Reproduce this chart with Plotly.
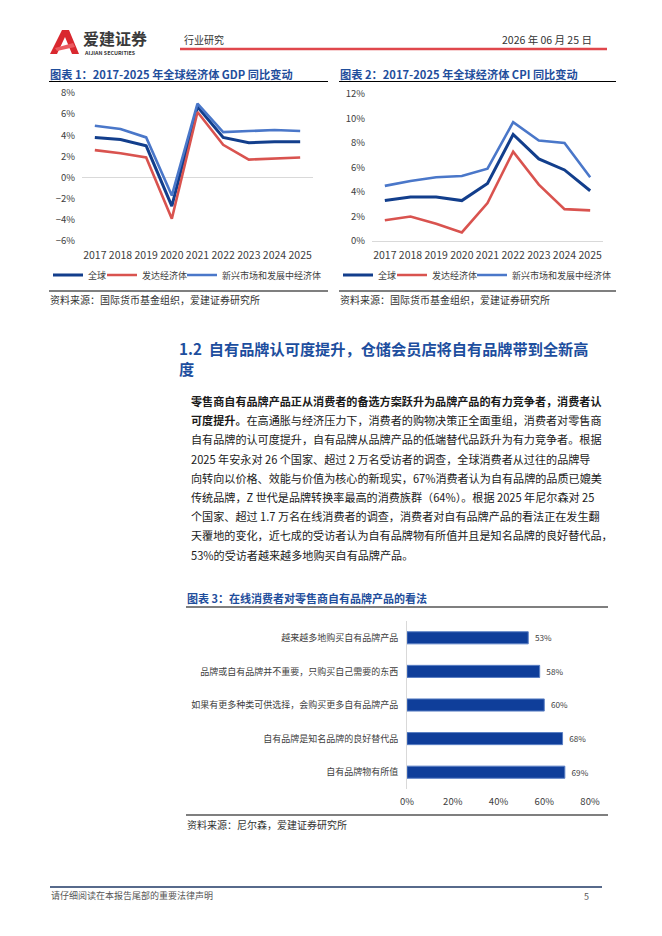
import plotly.graph_objects as go

# page is 662x936; the browser's body margin adds 8px, so the figure itself is smaller
W, H = 662, 936
OFF = 8
FW, FH = W - OFF, H - OFF
FONT = "Noto Sans CJK SC, Noto Sans, DejaVu Sans, sans-serif"

# ---- data ----
years = ["2017", "2018", "2019", "2020", "2021", "2022", "2023", "2024", "2025"]
series_names = ["全球", "发达经济体", "新兴市场和发展中经济体"]

gdp_world = [3.8, 3.6, 3.0, -2.7, 6.7, 3.8, 3.3, 3.4, 3.4]
gdp_adv = [2.6, 2.3, 1.9, -3.9, 6.2, 3.1, 1.7, 1.8, 1.9]
gdp_emg = [4.9, 4.6, 3.8, -1.7, 7.0, 4.3, 4.4, 4.5, 4.4]

cpi_world = [3.3, 3.6, 3.6, 3.3, 4.7, 8.7, 6.7, 5.8, 4.1]
cpi_adv = [1.7, 2.0, 1.4, 0.7, 3.1, 7.3, 4.6, 2.6, 2.5]
cpi_emg = [4.5, 4.9, 5.2, 5.3, 5.9, 9.7, 8.2, 8.0, 5.2]

views = ["越来越多地购买自有品牌产品",
         "品牌或自有品牌并不重要，只购买自己需要的东西",
         "如果有更多种类可供选择，会购买更多自有品牌产品",
         "自有品牌是知名品牌的良好替代品",
         "自有品牌物有所值"]
view_share = [53, 58, 60, 68, 69]

heading = ["1.2\u00a0\u00a0自有品牌认可度提升，仓储会员店将自有品牌带到全新高", "度"]
paragraph = [
    "<b>零售商自有品牌产品正从消费者的备选方案跃升为品牌产品的有力竞争者，消费者认</b>",
    "<b>可度提升。</b>在高通胀与经济压力下，消费者的购物决策正全面重组，消费者对零售商",
    "自有品牌的认可度提升，自有品牌从品牌产品的低端替代品跃升为有力竞争者。根据",
    "2025 年安永对 26 个国家、超过 2 万名受访者的调查，全球消费者从过往的品牌导",
    "向转向以价格、效能与价值为核心的新现实，67%消费者认为自有品牌的品质已媲美",
    "传统品牌，Z 世代是品牌转换率最高的消费族群（64%）。根据 2025 年尼尔森对 25",
    "个国家、超过 1.7 万名在线消费者的调查，消费者对自有品牌产品的看法正在发生翻",
    "天覆地的变化，近七成的受访者认为自有品牌物有所值并且是知名品牌的良好替代品，",
    "53%的受访者越来越多地购买自有品牌产品。",
]

colors = ["#123E8C", "#D9534F", "#4A77C9"]
widths = [3, 2.6, 2.6]
BLUE_T = "#1F4E9C"
GREY = "#404040"

# where each legend entry's sample line ends (page px), per chart
legend_ends_1 = [83, 137, 217]
legend_ends_2 = [373, 427, 507]


def px(x):
    return (x - OFF) / FW


def py(y):
    return 1 - (y - OFF) / FH


fig = go.Figure()

for i, (name, vals) in enumerate(zip(series_names, [gdp_world, gdp_adv, gdp_emg])):
    fig.add_trace(go.Scatter(x=years, y=vals, name=name, mode="lines",
                             line=dict(color=colors[i], width=widths[i]),
                             xaxis="x", yaxis="y",
                             legend="legend" if i == 0 else f"legend{i + 1}"))
for i, (name, vals) in enumerate(zip(series_names, [cpi_world, cpi_adv, cpi_emg])):
    fig.add_trace(go.Scatter(x=years, y=vals, name=name, mode="lines",
                             line=dict(color=colors[i], width=widths[i]),
                             xaxis="x2", yaxis="y2", legend=f"legend{i + 4}"))

fig.add_trace(go.Bar(x=view_share, y=views, orientation="h",
                     marker=dict(color="#0F3E9A", line=dict(color="#5A7FC4", width=1)),
                     texttemplate="\u00a0\u00a0%{x}", textposition="outside",
                     textfont=dict(family=FONT, size=9.5, color=GREY), cliponaxis=False,
                     xaxis="x3", yaxis="y3", showlegend=False))

tickfont = dict(family=FONT, size=9.5, color=GREY)
yearfont = dict(family=FONT, size=10.5, color=GREY)
hidden_tick = dict(ticks="outside", ticklen=4, tickcolor="rgba(0,0,0,0)", automargin=False)

legend_common = dict(orientation="h", font=dict(family=FONT, size=9, color=GREY),
                     bgcolor="rgba(0,0,0,0)", yanchor="middle", xanchor="left",
                     itemwidth=30, borderwidth=0)

legends = {}
for i, end in enumerate(legend_ends_1 + legend_ends_2):
    key = "legend" if i == 0 else f"legend{i + 1}"
    legends[key] = dict(x=px(end - 35), y=py(275), **legend_common)

fig.update_layout(
    template="none",
    width=FW, height=FH, margin=dict(l=0, r=0, t=0, b=0, pad=0), autosize=False,
    paper_bgcolor="white", plot_bgcolor="white",
    font=dict(family=FONT, color=GREY),
    bargap=0.64,
    xaxis=dict(domain=[px(82), px(313)], anchor="y", range=[-0.5, 8.5], type="category",
               showgrid=False, zeroline=False, showline=False,
               tickfont=yearfont, **hidden_tick),
    yaxis=dict(domain=[py(241), py(93)], anchor="x", range=[-6, 8], dtick=2, ticksuffix="%",
               showgrid=False, zeroline=True, zerolinecolor="#D9D9D9", zerolinewidth=1,
               tickfont=tickfont, **hidden_tick),
    xaxis2=dict(domain=[px(372), px(603)], anchor="y2", range=[-0.5, 8.5], type="category",
                showgrid=False, zeroline=False, showline=True, linecolor="#D9D9D9",
                linewidth=1, tickfont=yearfont, **hidden_tick),
    yaxis2=dict(domain=[py(241), py(94)], anchor="x2", range=[0, 12], dtick=2, ticksuffix="%",
                showgrid=False, zeroline=False, tickfont=tickfont, **hidden_tick),
    xaxis3=dict(domain=[px(407), px(590)], anchor="y3", range=[0, 80], dtick=20, ticksuffix="%",
                showgrid=False, zeroline=False, showline=False,
                tickfont=tickfont, **hidden_tick),
    yaxis3=dict(domain=[py(789), py(621)], anchor="x3", autorange="reversed", type="category",
                showgrid=False, zeroline=False, showline=True, linecolor="#D9D9D9",
                linewidth=1, tickfont=dict(family=FONT, size=9, color=GREY),
                ticks="outside", ticklen=6, tickcolor="rgba(0,0,0,0)", automargin=False),
    **legends,
)

shapes = []


def hline(x0, x1, y, color="black", w=1.2):
    shapes.append(dict(type="line", xref="paper", yref="paper",
                       x0=px(x0), x1=px(x1), y0=py(y), y1=py(y),
                       line=dict(color=color, width=w)))


hline(180, 607, 49, "#E0474C", 2.5)
hline(49, 328, 81.5)
hline(339, 616, 81.5)
hline(49, 328, 291)
hline(339, 616, 291)
hline(186, 608, 607)
hline(186, 608, 815)
hline(50, 602, 887, "#1F3864", 1.5)


# logo mark
def path(pts):
    return "M " + " L ".join(f"{px(a)},{py(b)}" for a, b in pts) + " Z"


shapes.append(dict(type="path", xref="paper", yref="paper",
                   path=path([(50, 54), (62, 30), (69, 30), (79, 54), (72, 54), (65, 37), (57, 54)]),
                   fillcolor="#D9282F", line=dict(width=0)))
shapes.append(dict(type="path", xref="paper", yref="paper",
                   path=path([(55, 48), (73, 43), (75, 47), (57, 51)]),
                   fillcolor="#EB5A60", line=dict(width=0)))

annotations = []


def text(x, y, s, size, color=GREY, anchor="left", bold=False):
    if bold:
        s = f"<b>{s}</b>"
    annotations.append(dict(xref="paper", yref="paper", x=px(x), y=py(y), text=s,
                            showarrow=False, xanchor=anchor, yanchor="middle",
                            font=dict(family=FONT, size=size, color=color)))


text(81, 38, "爱建证券", 16, "#3A3A3A", bold=True)
text(82, 52.5, "AIJIAN SECURITIES", 5.4, "#3A3A3A", bold=True)
text(182, 40, "行业研究", 10, "#333333")
text(594, 39, "2026 年 06 月 25 日", 10.5, "#333333", anchor="right")

text(48, 74, "图表 1：2017-2025 年全球经济体 GDP 同比变动", 11.2, BLUE_T, bold=True)
text(338, 74, "图表 2：2017-2025 年全球经济体 CPI 同比变动", 11.2, BLUE_T, bold=True)
text(48, 299, "资料来源：国际货币基金组织，爱建证券研究所", 10, "#333333")
text(338, 299, "资料来源：国际货币基金组织，爱建证券研究所", 10, "#333333")

for k, line in enumerate(heading):
    text(177, 348 + 20 * k, line, 15.2, "#1D4E9E", bold=True)

for k, line in enumerate(paragraph):
    text(189, 401 + 19.2 * k, line, 11.1, "#1A1A1A")

text(185, 598, "图表 3：在线消费者对零售商自有品牌产品的看法", 11, BLUE_T, bold=True)
text(185, 824, "资料来源：尼尔森，爱建证券研究所", 10, "#333333")

text(49, 895, "请仔细阅读在本报告尾部的重要法律声明", 9, "#555555")
text(591, 896, "5", 9, "#555555", anchor="right")

fig.update_layout(shapes=shapes, annotations=annotations)

fig.write_html("out.html")
